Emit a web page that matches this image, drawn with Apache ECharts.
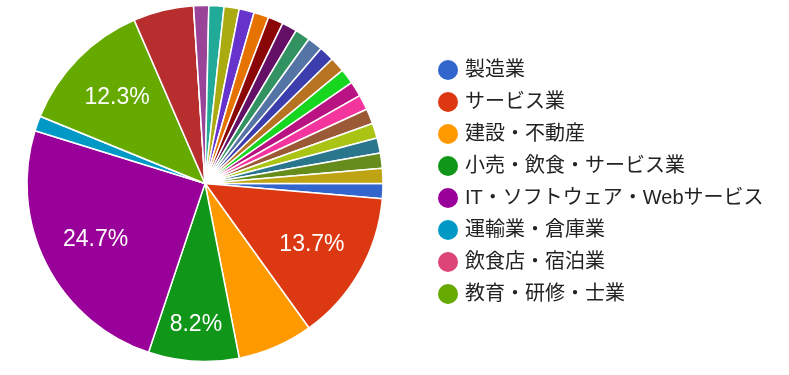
<!DOCTYPE html>
<html>
<head>
<meta charset="utf-8">
<script src="https://cdn.jsdelivr.net/npm/echarts@6/dist/echarts.min.js"></script>
<style>
html,body{margin:0;padding:0;background:#fff;}
#chart{width:789px;height:375px;}
</style>
</head>
<body>
<div id="chart"></div>
<script>
// Categories (first 8 are shown in the legend; the rest are further legend pages)
const categories = [
  '製造業', 'サービス業', '建設・不動産', '小売・飲食・サービス業',
  'IT・ソフトウェア・Webサービス', '運輸業・倉庫業', '飲食店・宿泊業', '教育・研修・士業',
  '回答9', '回答10', '回答11', '回答12', '回答13', '回答14', '回答15', '回答16',
  '回答17', '回答18', '回答19', '回答20', '回答21', '回答22', '回答23', '回答24',
  '回答25', '回答26', '回答27', '回答28', '回答29'
];
// Response counts (73 total)
const counts = [
  1, 10, 5, 6, 18, 1, 0, 9,
  4, 0, 1, 1, 1, 1, 1, 1,
  1, 1, 1, 1, 1, 1, 1, 1,
  1, 1, 1, 1, 1
];
const legendNames = categories.slice(0, 8);
const palette = [
  '#3366cc', '#dc3912', '#ff9900', '#109618', '#990099', '#0099c6', '#dd4477', '#66aa00',
  '#b82e2e', '#316395', '#994499', '#22aa99', '#aaaa11', '#6633cc', '#e67300', '#8b0707',
  '#651067', '#329262', '#5574a6', '#3b3eac', '#b77322', '#16d620', '#b91383', '#f4359e',
  '#9c5935', '#a9c413', '#2a778d', '#668d1c', '#bea413'
];

const total = counts.reduce((a, b) => a + b, 0);
const pieData = categories.map((n, i) => ({ name: n, value: counts[i] }));

const CENTER = [205, 183.5];
const R = 178;

function pctText(v) { return (v / total * 100).toFixed(1) + '%'; }
function labelFor(minPct, maxPct) {
  return function (p) {
    const pc = p.value / total * 100;
    return (pc >= minPct && pc < maxPct) ? pctText(p.value) : '';
  };
}
const labelStyle = {
  show: true, position: 'inside', color: '#ffffff',
  fontFamily: 'Liberation Sans, Arial, sans-serif', fontSize: 23
};
const overlayBase = {
  type: 'pie', center: CENTER, startAngle: 0, clockwise: true,
  silent: true, avoidLabelOverlap: false, legendHoverLink: false,
  itemStyle: { color: 'transparent', borderWidth: 0 },
  emphasis: { disabled: true }, labelLine: { show: false },
  data: pieData, z: 5
};

const chart = echarts.init(document.getElementById('chart'), null, { renderer: 'canvas' });
chart.setOption({
  animation: false,
  color: palette,
  legend: {
    data: legendNames,
    orient: 'vertical',
    left: 438, top: 60, padding: 0,
    icon: 'circle',
    itemWidth: 24, itemHeight: 20, itemGap: 12,
    symbolKeepAspect: true,
    itemStyle: { borderWidth: 0 },
    textStyle: {
      fontFamily: 'Liberation Sans, Arial, "Noto Sans CJK JP", sans-serif',
      fontSize: 20, lineHeight: 20, color: '#222222'
    },
    selectedMode: false
  },
  series: [
    {
      type: 'pie', center: CENTER, radius: [0, R], startAngle: 0, clockwise: true,
      avoidLabelOverlap: false,
      itemStyle: { borderColor: '#ffffff', borderWidth: 1.5 },
      label: { show: false }, labelLine: { show: false },
      emphasis: { disabled: true },
      data: pieData
    },
    Object.assign({}, overlayBase, {
      radius: [62, R],
      label: Object.assign({}, labelStyle, { formatter: labelFor(10, 101) })
    }),
    Object.assign({}, overlayBase, {
      radius: [99, R],
      label: Object.assign({}, labelStyle, { formatter: labelFor(7.5, 10) })
    })
  ]
});
</script>
</body>
</html>
